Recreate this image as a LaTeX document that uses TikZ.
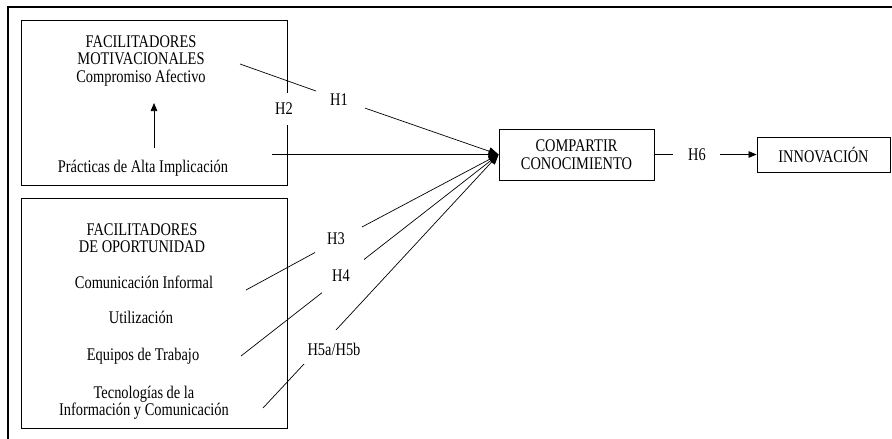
\documentclass[tikz,border=0pt]{standalone}
\usepackage{fontspec}
\setmainfont{Liberation Serif}[FakeStretch=0.81]
\usetikzlibrary{arrows.meta}
\begin{document}
\begin{tikzpicture}[x=1pt,y=-1pt,
  txt/.style={inner sep=0pt,anchor=base,font=\fontsize{17.8}{17.8}\selectfont},
  txttwo/.style={inner sep=0pt,anchor=north,align=center,font=\fontsize{17.8}{17}\selectfont},
  box/.style={draw,line width=0.8pt,inner sep=0pt},
  boxtxt/.style={align=center,font=\fontsize{17.8}{17.5}\selectfont},
  conn/.style={line width=0.7pt},
  tipA/.style={-{Triangle[length=10pt,width=8pt]}},
  tipB/.style={-{Triangle[length=8pt,width=6.5pt]}},
  gaplbl/.style={fill=white,inner sep=0pt,minimum width=16pt,minimum height=32pt,font=\fontsize{17.8}{17.8}\selectfont},
  frame/.style={line width=1.6pt}]
\useasboundingbox (0,0) rectangle (892,439);
% outer frame
\draw[frame] (8,439) -- (8,7) -- (892,7);
% boxes
\node[box,minimum width=266pt,minimum height=165pt] (motbox) at (154,102.5) {};
\node[box,minimum width=266pt,minimum height=230pt] (oppbox) at (154,313) {};
\node[box,boxtxt,minimum width=155pt,minimum height=51pt] (cc) at (576.5,154.5) {COMPARTIR\\CONOCIMIENTO};
\node[box,boxtxt,minimum width=133pt,minimum height=35pt] (inn) at (823.5,154.5) {INNOVACIÓN};
% texts top box
\node[txttwo] (fm) at (141,35.7) {FACILITADORES\\MOTIVACIONALES};
\node[txt] (comp) at (141,82.5) {Compromiso Afectivo};
\node[txt] (prac) at (143,172.5) {Prácticas de Alta Implicación};
% texts bottom box
\node[txttwo] (fo) at (142,223.5) {FACILITADORES\\DE OPORTUNIDAD};
\node[txt] (cinf) at (144,288) {Comunicación Informal};
\node[txt] (util) at (141,323.5) {Utilización};
\node[txt] (equi) at (143,360) {Equipos de Trabajo};
\node[txttwo] (tic) at (144,385.8) {Tecnologías de la\\Información y Comunicación};
% labels
\node[gaplbl] (h2) at (284,109) {H2};
\node[txt] (h1) at (339,105) {H1};
\node[txt] (h3) at (336,244) {H3};
\node[txt] (h4) at (341,281.7) {H4};
\node[txt] (h5) at (334,355) {H5a/H5b};
\node[txt] (h6) at (697,160) {H6};
% connector end points
\coordinate (pa) at (154,148);
\coordinate (pb) at (154,103);
\coordinate (h1s) at (240,64);
\coordinate (h1a) at (316,91);
\coordinate (h1b) at (365,108.1);
\coordinate (pr) at (272,154.5);
\coordinate (h3s) at (246,290);
\coordinate (h3a) at (315,252.5);
\coordinate (h3b) at (362,227);
\coordinate (h4s) at (241,356);
\coordinate (h4a) at (322,292.7);
\coordinate (h4b) at (364,259.5);
\coordinate (h5s) at (263,408);
\coordinate (h5a) at (304,364);
\coordinate (h5b) at (336,330);
\coordinate (h6a) at (673,154.5);
\coordinate (h6b) at (720,154.5);
% connectors
\draw[conn,tipB] (pa) -- (pb);
\draw[conn] (h1s) -- (h1a);
\draw[conn,tipA] (h1b) -- (cc.west);
\draw[conn,tipA] (pr) -- (cc.west);
\draw[conn] (h3s) -- (h3a);
\draw[conn,tipA] (h3b) -- (cc.west);
\draw[conn] (h4s) -- (h4a);
\draw[conn,tipA] (h4b) -- (cc.west);
\draw[conn] (h5s) -- (h5a);
\draw[conn,tipA] (h5b) -- (cc.west);
\draw[conn] (cc.east) -- (h6a);
\draw[conn,tipB] (h6b) -- (inn.west);
\end{tikzpicture}
\end{document}
